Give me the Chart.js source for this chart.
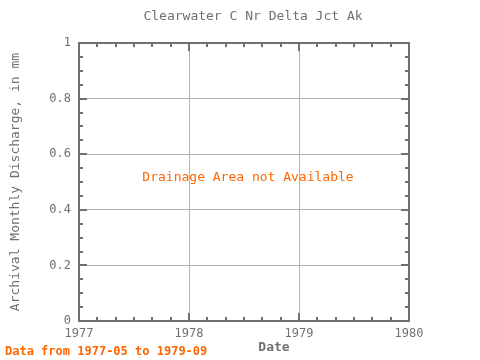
<!DOCTYPE html>
<html>
<head>
<meta charset="utf-8">
<script src="https://cdn.jsdelivr.net/npm/chart.js@4/dist/chart.umd.min.js"></script>
<style>
html, body { margin: 0; padding: 0; background: #fff; }
#wrap { width: 480px; height: 360px; }
</style>
</head>
<body>
<div id="wrap"><canvas id="grafico"></canvas></div>
<script>
// no discharge values in the record, only the period
let titulo = 'Clearwater C Nr Delta Jct Ak';
let anos = [1977, 1978, 1979, 1980];
let yTicks = [0, 0.2, 0.4, 0.6, 0.8, 1];
let datas = [];
let valores = [];
let aviso = 'Drainage Area not Available';
let periodo = 'Data from 1977-05 to 1979-09';

const cinza = '#707070';
const laranja = '#ff6600';
const fonte = 'DejaVu Sans Mono';

// minor ticks, frame and loose labels drawn on top
const extras = {
    id: 'extras',
    afterDraw(chart) {
        const ctx = chart.ctx;
        const a = chart.chartArea;
        const sx = chart.scales.x;
        const sy = chart.scales.y;
        ctx.save();
        ctx.strokeStyle = cinza;
        ctx.lineWidth = 2;
        ctx.strokeRect(a.left, a.top, a.right - a.left, a.bottom - a.top);
        // x ticks every 2 months
        for (let i = 0; i <= (anos[anos.length - 1] - anos[0]) * 6; i++) {
            let v = anos[0] + i / 6;
            let px = Math.round(sx.getPixelForValue(v));
            let len = (i % 6 === 0) ? 8 : 4;
            ctx.beginPath();
            ctx.moveTo(px, a.bottom); ctx.lineTo(px, a.bottom - len);
            ctx.moveTo(px, a.top); ctx.lineTo(px, a.top + len);
            ctx.stroke();
        }
        // y ticks every 0.05
        for (let i = 0; i <= 20; i++) {
            let py = Math.round(sy.getPixelForValue(i * 0.05));
            let len = (i % 4 === 0) ? 8 : 4;
            ctx.beginPath();
            ctx.moveTo(a.left, py); ctx.lineTo(a.left + len, py);
            ctx.moveTo(a.right, py); ctx.lineTo(a.right - len, py);
            ctx.stroke();
        }
        ctx.textBaseline = 'middle';
        ctx.fillStyle = cinza;
        ctx.font = '13px "' + fonte + '"';
        ctx.textAlign = 'center';
        ctx.fillText(titulo, 253, 17);
        ctx.font = 'bold 13px "' + fonte + '"';
        ctx.fillText('Date', 274, 348);
        ctx.fillStyle = laranja;
        ctx.font = '13px "' + fonte + '"';
        ctx.fillText(aviso, 248, 178);
        ctx.font = 'bold 12px "' + fonte + '"';
        ctx.textAlign = 'left';
        ctx.fillText(periodo, 5, 352);
        ctx.restore();
    }
};

new Chart(document.getElementById('grafico').getContext('2d'), {
    type: 'line',
    data: {
        labels: datas,
        datasets: [{
            label: 'Discharge',
            data: valores,
            borderColor: '#0000ff',
            pointRadius: 0
        }]
    },
    options: {
        responsive: true,
        maintainAspectRatio: false,
        animation: false,
        layout: { padding: { left: 0, right: 71, top: 43, bottom: 0 } },
        plugins: {
            legend: { display: false },
            tooltip: { enabled: false },
            title: { display: false }
        },
        scales: {
            x: {
                type: 'linear',
                min: anos[0],
                max: anos[anos.length - 1],
                afterBuildTicks: (s) => { s.ticks = anos.map(v => ({ value: v })); },
                afterFit: (s) => { s.height = 39; },
                border: { display: true, color: cinza, width: 2 },
                grid: { color: '#b4b4b4', lineWidth: 1, drawTicks: false },
                ticks: {
                    color: cinza,
                    padding: 6,
                    maxRotation: 0,
                    font: { family: fonte, size: 12 },
                    callback: (v) => String(v)
                },
                title: { display: false }
            },
            y: {
                min: 0,
                max: 1,
                afterBuildTicks: (s) => { s.ticks = yTicks.map(v => ({ value: v })); },
                afterFit: (s) => { s.width = 79; },
                border: { display: true, color: cinza, width: 2 },
                grid: { color: '#b4b4b4', lineWidth: 1, drawTicks: false },
                ticks: {
                    color: cinza,
                    padding: 8,
                    font: { family: fonte, size: 12 },
                    callback: (v) => String(Math.round(v * 10) / 10)
                },
                title: {
                    display: true,
                    text: 'Archival Monthly Discharge, in mm',
                    color: cinza,
                    font: { family: fonte, size: 13 },
                    padding: { top: 8, bottom: 0 }
                }
            }
        }
    },
    plugins: [extras]
});
</script>
</body>
</html>
